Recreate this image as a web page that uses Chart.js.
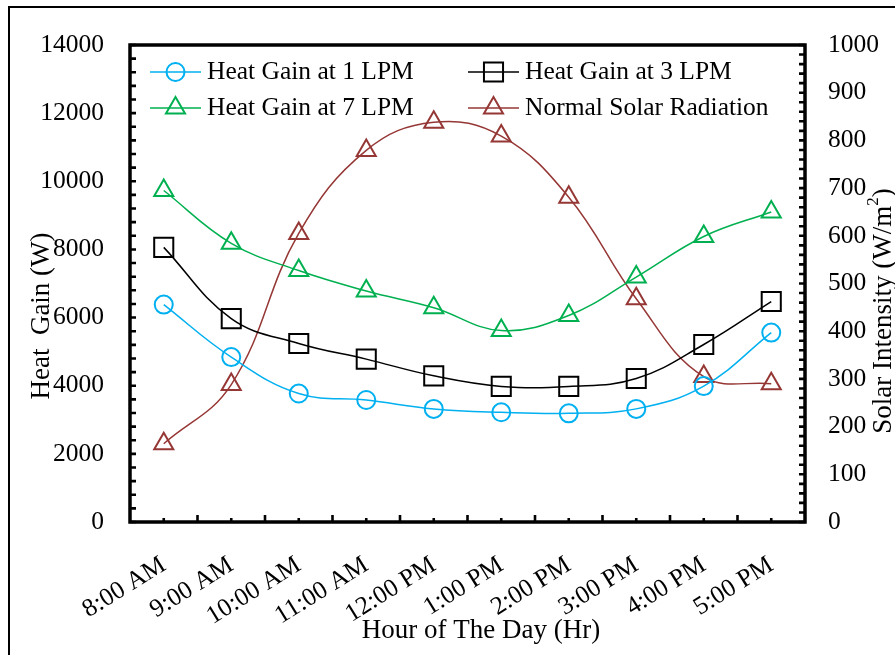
<!DOCTYPE html>
<html>
<head>
<meta charset="utf-8">
<title>Heat Gain and Solar Radiation</title>
<script src="https://cdn.jsdelivr.net/npm/chart.js@4.4.0/dist/chart.umd.min.js"></script>
<style>
  html, body { margin: 0; padding: 0; background: #fff; }
  #wrap { position: relative; width: 895px; height: 655px; overflow: hidden; }
  #frame { position: absolute; left: 8px; top: 6px; width: 1000px; height: 1000px; border: 2px solid #000; }
  canvas { position: absolute; left: 0; top: 0; }
</style>
</head>
<body>
<div id="wrap">
  <div id="frame"></div>
  <canvas id="chart" width="895" height="655"></canvas>
</div>
<script>
const hours = ['8:00 AM', '9:00 AM', '10:00 AM', '11:00 AM', '12:00 PM',
               '1:00 PM', '2:00 PM', '3:00 PM', '4:00 PM', '5:00 PM'];

// heat gain (W)
const gain1 = [6380, 4840, 3770, 3580, 3320, 3220, 3190, 3320, 3990, 5560];
const gain3 = [8060, 5970, 5240, 4780, 4290, 3980, 3980, 4210, 5210, 6470];
const gain7 = [9730, 8180, 7380, 6780, 6290, 5620, 6060, 7190, 8380, 9100];

// normal solar radiation (W/m2)
const solar = [164, 288, 605, 779, 838, 809, 681, 468, 305, 290];

const FONT = 'Liberation Serif';
const tickFont = { family: FONT, size: 25.5 };
const titleFont = { family: FONT, size: 27 };

function series(label, data, color, style, radius, axis) {
  return {
    label: label,
    data: data,
    yAxisID: axis,
    borderColor: color,
    backgroundColor: 'rgba(0,0,0,0)',
    borderWidth: 1.5,
    tension: 0.4,
    pointStyle: style,
    pointRadius: radius,
    pointHoverRadius: radius,
    pointBorderWidth: 2,
    pointBorderColor: color,
    pointBackgroundColor: 'rgba(0,0,0,0)'
  };
}

const plain = v => String(v);

// frame, inward tick marks, axis titles and the legend
const decorations = {
  id: 'decorations',
  afterDraw(chart) {
    const ctx = chart.ctx;
    const a = chart.chartArea;
    const sx = chart.scales.x, sy = chart.scales.y, sy1 = chart.scales.y1;
    ctx.save();
    ctx.strokeStyle = '#000';
    ctx.lineWidth = 2.6;
    ctx.beginPath();
    for (let v = 0; v <= 14000; v += 400) {
      const y = sy.getPixelForValue(v);
      ctx.moveTo(a.left, y); ctx.lineTo(a.left + 6, y);
    }
    for (let v = 0; v <= 1000; v += 20) {
      const y = sy1.getPixelForValue(v);
      ctx.moveTo(a.right, y); ctx.lineTo(a.right - 6, y);
    }
    const step = sx.getPixelForValue(1) - sx.getPixelForValue(0);
    for (let i = 0; i < hours.length; i++) {
      const x = sx.getPixelForValue(i);
      ctx.moveTo(x, a.bottom); ctx.lineTo(x, a.bottom - 4);
      if (i > 0) {
        ctx.moveTo(x - step / 2, a.bottom); ctx.lineTo(x - step / 2, a.bottom - 7);
      }
    }
    ctx.stroke();

    ctx.lineWidth = 3.5;
    ctx.strokeRect(a.left, a.top, a.right - a.left, a.bottom - a.top);

    // axis titles
    ctx.fillStyle = '#000';
    ctx.textBaseline = 'middle';
    ctx.font = titleFont.size + 'px ' + FONT;
    ctx.textAlign = 'center';
    ctx.fillText('Hour of The Day (Hr)', 481, 631);

    ctx.save();
    ctx.translate(42, 316);
    ctx.rotate(-Math.PI / 2);
    ctx.fillText('Heat  Gain (W)', 0, 0);
    ctx.restore();

    const parts = [
      { t: 'Solar Intensity (W/m', size: titleFont.size, dy: 0 },
      { t: '2', size: 17, dy: -10 },
      { t: ')', size: titleFont.size, dy: 0 }
    ];
    let total = 0;
    parts.forEach(p => { ctx.font = p.size + 'px ' + FONT; p.w = ctx.measureText(p.t).width; total += p.w; });
    ctx.save();
    ctx.translate(884, 311);
    ctx.rotate(-Math.PI / 2);
    ctx.textAlign = 'left';
    let x = -total / 2;
    parts.forEach(p => {
      ctx.font = p.size + 'px ' + FONT;
      ctx.fillText(p.t, x, p.dy);
      x += p.w;
    });
    ctx.restore();

    // legend, two columns inside the plot
    const cols = [a.left + 20, a.left + 338];
    const rows = [a.top + 27, a.top + 63];
    ctx.font = tickFont.size + 'px ' + FONT;
    ctx.textAlign = 'left';
    chart.data.datasets.forEach((ds, i) => {
      const lx = cols[i % 2], ly = rows[Math.floor(i / 2)];
      ctx.strokeStyle = ds.borderColor;
      ctx.lineWidth = ds.borderWidth;
      ctx.beginPath();
      ctx.moveTo(lx, ly); ctx.lineTo(lx + 51, ly);
      ctx.stroke();
      ctx.lineWidth = ds.pointBorderWidth;
      ctx.fillStyle = 'rgba(0,0,0,0)';
      Chart.helpers.drawPoint(ctx, {
        pointStyle: ds.pointStyle, radius: ds.pointRadius, rotation: 0, borderWidth: ds.pointBorderWidth
      }, lx + 25.5, ly);
      ctx.fillStyle = '#000';
      ctx.fillText(ds.label, lx + 57, ly);
    });
    ctx.restore();
  }
};

new Chart(document.getElementById('chart'), {
  type: 'line',
  data: {
    labels: hours,
    datasets: [
      series('Heat Gain at 1 LPM', gain1, '#00B0F0', 'circle', 9, 'y'),
      series('Heat Gain at 3 LPM', gain3, '#000000', 'rect', 13.5, 'y'),
      series('Heat Gain at 7 LPM', gain7, '#00B050', 'triangle', 11, 'y'),
      series('Normal Solar Radiation', solar, '#953735', 'triangle', 11, 'y1')
    ]
  },
  options: {
    responsive: false,
    animation: false,
    devicePixelRatio: 1,
    layout: { padding: { top: 45, left: 0, right: 0, bottom: 0 } },
    plugins: {
      legend: { display: false },
      tooltip: { enabled: false },
      title: { display: false }
    },
    scales: {
      x: {
        offset: true,
        grid: { display: false, drawTicks: false },
        border: { display: false },
        ticks: { font: tickFont, color: '#000', autoSkip: false, minRotation: 32, maxRotation: 32, padding: 28 },
        afterFit(s) { s.height = 133; }
      },
      y: {
        position: 'left',
        min: 0, max: 14000,
        grid: { display: false, drawTicks: false },
        border: { display: false },
        ticks: { stepSize: 2000, font: tickFont, color: '#000', padding: 26, callback: plain },
        afterFit(s) { s.width = 130; }
      },
      y1: {
        position: 'right',
        min: 0, max: 1000,
        grid: { display: false, drawTicks: false },
        border: { display: false },
        ticks: { stepSize: 100, font: tickFont, color: '#000', padding: 23, callback: plain },
        afterFit(s) { s.width = 90; }
      }
    }
  },
  plugins: [decorations]
});
</script>
</body>
</html>
